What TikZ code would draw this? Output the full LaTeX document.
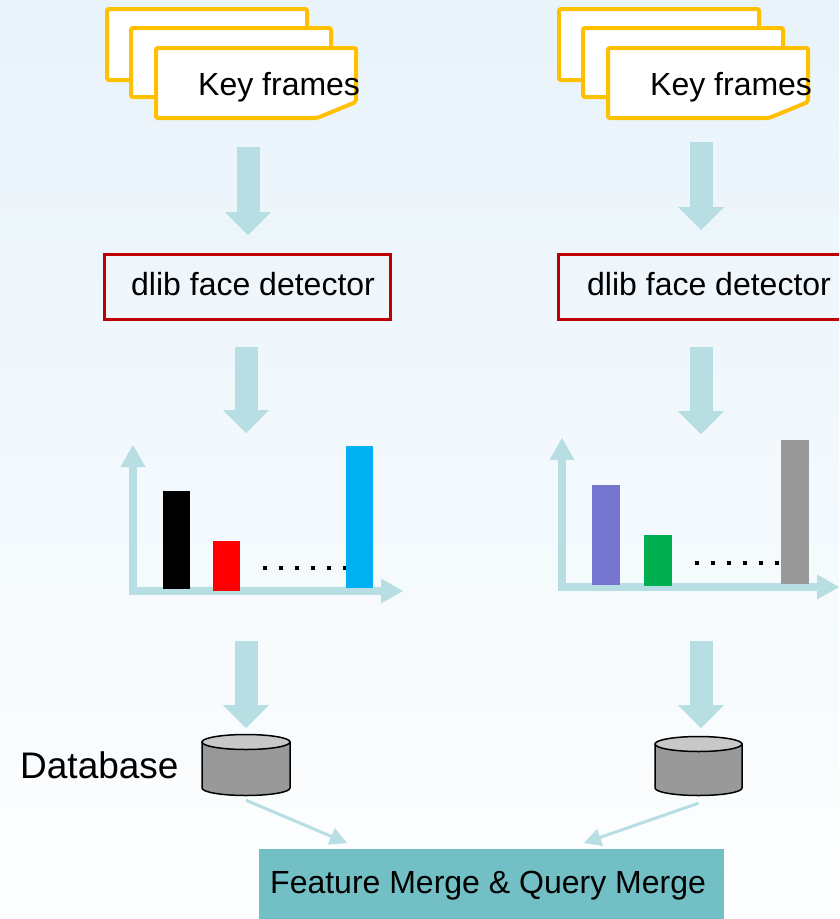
\documentclass[tikz,border=0pt]{standalone}
\usepackage{fontspec}
\setmainfont{Liberation Sans}
\usetikzlibrary{arrows.meta}
\definecolor{frameY}{HTML}{FFC000}
\definecolor{detRed}{HTML}{C00000}
\definecolor{flowC}{HTML}{B7DEE2}
\definecolor{mergeC}{HTML}{72BFC5}
\definecolor{barBlue}{HTML}{00B0F0}
\definecolor{barRed}{HTML}{FF0000}
\definecolor{barPurple}{HTML}{7676D0}
\definecolor{barGreen}{HTML}{00B050}
\definecolor{barGray}{HTML}{999999}
\definecolor{dbSide}{HTML}{999999}
\definecolor{dbTop}{HTML}{C8C8C8}
\definecolor{bgTop}{HTML}{E8F3FA}
\definecolor{bgBot}{HTML}{FDFEFF}
\begin{document}
\begin{tikzpicture}[x=1pt,y=-1pt,
  keyframe/.style={draw=frameY, line width=4pt, fill=white, rounded corners=2pt},
  label/.style={font=\fontsize{32}{38}\selectfont, inner sep=0pt, anchor=base west},
  detector/.style={draw=detRed, line width=3pt, anchor=north west, inner sep=0pt},
  flow/.style={draw=flowC, line width=23pt, -{Triangle[length=23pt,width=46pt,line width=0pt]}},
  axis/.style={draw=flowC, line width=8pt, -{Triangle[length=22pt,width=25pt,line width=0pt]}},
  link/.style={draw=flowC, line width=3pt, -{Triangle[length=17pt,width=18pt,line width=0pt]}},
  dot/.style={fill=black},
  dbside/.style={draw=black, line width=1.5pt, fill=dbSide},
  dbtop/.style={draw=black, line width=1.5pt, fill=dbTop}
]
\clip (0,0) rectangle (839,919);
\shade[top color=bgTop, bottom color=bgBot] (0,0) rectangle (839,919);

% ---------- key frame stacks ----------
\path[keyframe] (107,9) rectangle (307,80);
\path[keyframe] (131,28) rectangle (331,97);
\path[keyframe] (156,48) -- (356,48) -- (356,102) -- (317,118) -- (156,118) -- cycle;
\node[label] (kfL) at (198,95) {Key frames};

\path[keyframe] (559,9) rectangle (759,80);
\path[keyframe] (583,28) rectangle (783,97);
\path[keyframe] (608,48) -- (808,48) -- (808,102) -- (769,118) -- (608,118) -- cycle;
\node[label] (kfR) at (650,95) {Key frames};

% ---------- face detectors ----------
\node[detector, minimum width=286pt, minimum height=65pt] (detL) at (103,253) {};
\node[label] (detLt) at (131,295) {dlib face detector};
\node[detector, minimum width=290pt, minimum height=65pt] (detR) at (557,253) {};
\node[label] (detRt) at (587,295) {dlib face detector};

% ---------- histograms ----------
\coordinate (oL) at (133,591);
\draw[axis] ([yshift=-4pt]oL) -- (133,445);
\draw[axis] ([xshift=-4pt]oL) -- (403,591);
\fill[black] (163,491) rectangle (190,589);
\fill[barRed] (213,541) rectangle (240,591);
\foreach \dx in {265,281,297,313,329,345} \fill[dot] (\dx-2,566) rectangle (\dx+2,570);
\fill[barBlue] (346,446) rectangle (373,588);

\coordinate (oR) at (562,587);
\draw[axis] ([yshift=-4pt]oR) -- (562,438);
\draw[axis] ([xshift=-4pt]oR) -- (839,587);
\fill[barPurple] (592,485) rectangle (620,585);
\fill[barGreen] (644,535) rectangle (672,586);
\foreach \dx in {697,713,729,745,761,777} \fill[dot] (\dx-2,561) rectangle (\dx+2,565);
\fill[barGray] (781,440) rectangle (809,584);

% ---------- databases ----------
\path[dbside] (202,742) -- (202,788) arc[start angle=180, end angle=0, x radius=44, y radius=7.5] -- (290,742) -- cycle;
\path[dbtop] (246,742) ellipse[x radius=44, y radius=7.5];
\node[inner sep=0pt, minimum width=88pt, minimum height=60pt] (dbL) at (246,766) {};
\node[label, font=\fontsize{37}{44}\selectfont] (dbLabel) at (20,778) {Database};

\path[dbside] (655,744) -- (655,788) arc[start angle=180, end angle=0, x radius=43.5, y radius=7.5] -- (742,744) -- cycle;
\path[dbtop] (698.5,744) ellipse[x radius=43.5, y radius=7.5];
\node[inner sep=0pt, minimum width=87pt, minimum height=60pt] (dbR) at (698.5,767) {};

% ---------- merge stage ----------
\node[fill=mergeC, anchor=north west, inner sep=0pt, minimum width=465pt, minimum height=75pt] (merge) at (259,849) {};
\node[label] (mergeT) at (270,893) {Feature Merge \& Query Merge};

% ---------- flow arrows ----------
\coordinate (aL1s) at (248,147); \coordinate (aL1e) at (248,235);
\coordinate (aL2s) at (246,347); \coordinate (aL2e) at (246,433);
\coordinate (aL3s) at (246,641); \coordinate (aL3e) at (246,728);
\coordinate (aR1s) at (701,142); \coordinate (aR1e) at (701,230);
\coordinate (aR2s) at (701,347); \coordinate (aR2e) at (701,434);
\coordinate (aR3s) at (701,641); \coordinate (aR3e) at (701,728);
\foreach \a in {L1,L2,L3,R1,R2,R3} \draw[flow] (a\a s) -- (a\a e);

\coordinate (mL) at (347,843);
\coordinate (mR) at (584,843);
\draw[link] ([yshift=-4pt]dbL.south) -- (mL);
\draw[link] ([yshift=-6pt]dbR.south) -- (mR);
\end{tikzpicture}
\end{document}
